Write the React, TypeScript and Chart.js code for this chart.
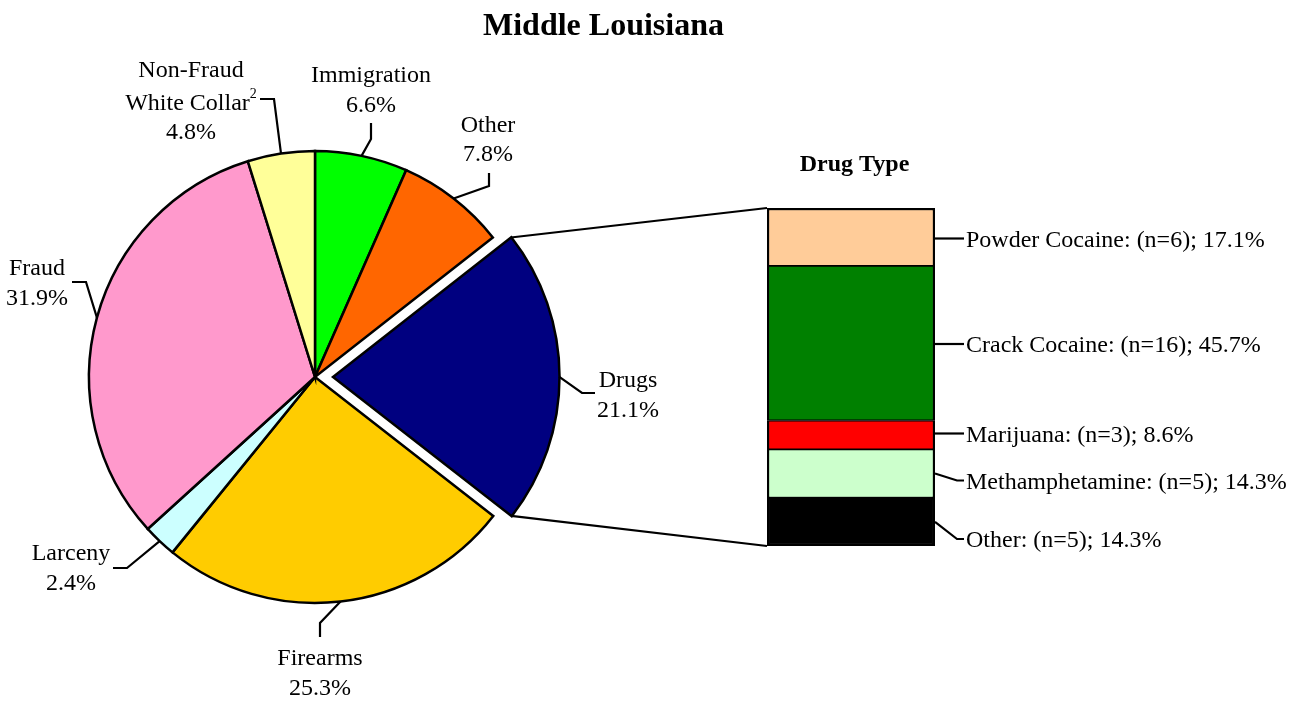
import React, { useEffect, useRef } from "react";
import { Chart, registerables } from "chart.js";

Chart.register(...registerables);

// ---------------- data ----------------
const TITLE = "Middle Louisiana";
const OFFENSE_TYPES = ["Immigration", "Other", "Drugs", "Firearms", "Larceny", "Fraud", "Non-Fraud White Collar"];
const OFFENSE_SHARES = [6.6, 7.8, 21.1, 25.3, 2.4, 31.9, 4.8];
const OFFENSE_LABEL_LINES = [["Immigration"], ["Other"], ["Drugs"], ["Firearms"], ["Larceny"], ["Fraud"], ["Non-Fraud", "White Collar"]];
const OFFENSE_FOOTNOTES = ["", "", "", "", "", "", "2"];
const EXPLODED_TYPE = "Drugs";

const DRUG_TITLE = "Drug Type";
// bottom to top of the stacked bar
const DRUG_TYPES = ["Other", "Methamphetamine", "Marijuana", "Crack Cocaine", "Powder Cocaine"];
const DRUG_COUNTS = [5, 5, 3, 16, 6];
const DRUG_SHARES = [14.3, 14.3, 8.6, 45.7, 17.1];

// ---------------- styles / layout ----------------
const OFFENSE_COLORS = ["#00FF00", "#FF6600", "#000080", "#FFCC00", "#CCFFFF", "#FF99CC", "#FFFF99"];
const DRUG_COLORS = ["#000000", "#CCFFCC", "#FF0000", "#008000", "#FFCC99"];

const W = 1298;
const H = 704;
const FONT = '"Liberation Serif", "Times New Roman", serif';
const PIE_CX = 315;
const PIE_CY = 377;
const PIE_R = 226;
const EXPLODE_PX = 18;
const BAR_LEFT = 767;
const BAR_RIGHT = 935;
const BAR_TOP = 208;
const BAR_BOTTOM = 546;
const LINE_W = 2.2;

const PIE_LABEL_LAYOUT = [
  { x: 371, baselines: [82, 112], elbow: [371, 139], end: [371, 123] },
  { x: 488, baselines: [131.5, 161], elbow: [489, 186], end: [489, 173] },
  { x: 628, baselines: [387, 417], elbow: [582, 393], end: [595, 393] },
  { x: 320, baselines: [665, 695], elbow: [320, 623], end: [320, 637] },
  { x: 71, baselines: [560, 590], elbow: [127, 568], end: [113, 568] },
  { x: 37, baselines: [275, 305], elbow: [86, 282], end: [72, 282] },
  { x: 191, baselines: [76.5, 110, 138.5], elbow: [274, 99], end: [260, 99] },
];

const DRUG_LABEL_LAYOUT = [
  { baseline: 547, bent: true },
  { baseline: 488.5, bent: true },
  { baseline: 441.5, bent: false },
  { baseline: 352, bent: false },
  { baseline: 246.5, bent: false },
];

let pieChartRef: Chart | null = null;

function arcPoint(arc: any, angle: number) {
  const mid = (arc.startAngle + arc.endAngle) / 2;
  const off = (arc.options.offset || 0) / 4;
  return [
    arc.x + Math.cos(angle) * arc.outerRadius + Math.cos(mid) * off,
    arc.y + Math.sin(angle) * arc.outerRadius + Math.sin(mid) * off,
  ];
}

const pieLabelsPlugin = {
  id: "pieLabels",
  afterDraw(chart: any) {
    const ctx = chart.ctx as CanvasRenderingContext2D;
    const meta = chart.getDatasetMeta(0);
    ctx.save();
    // main title
    ctx.fillStyle = "#000";
    ctx.font = `bold 32px ${FONT}`;
    ctx.textAlign = "center";
    ctx.textBaseline = "alphabetic";
    ctx.fillText(TITLE, 603.5, 35);

    ctx.strokeStyle = "#000";
    ctx.lineWidth = LINE_W;
    ctx.lineJoin = "miter";
    meta.data.forEach((arc: any, i: number) => {
      const lay = PIE_LABEL_LAYOUT[i];
      const mid = (arc.startAngle + arc.endAngle) / 2;
      const p = arcPoint(arc, mid);
      ctx.beginPath();
      ctx.moveTo(p[0], p[1]);
      ctx.lineTo(lay.elbow[0], lay.elbow[1]);
      ctx.lineTo(lay.end[0], lay.end[1]);
      ctx.stroke();

      const lines = [...OFFENSE_LABEL_LINES[i], `${OFFENSE_SHARES[i].toFixed(1)}%`];
      lines.forEach((ln, j) => {
        const by = lay.baselines[j];
        const isLastTextLine = j === OFFENSE_LABEL_LINES[i].length - 1;
        const note = isLastTextLine ? OFFENSE_FOOTNOTES[i] : "";
        ctx.font = `24px ${FONT}`;
        if (note) {
          const w1 = ctx.measureText(ln).width;
          ctx.font = `14px ${FONT}`;
          const w2 = ctx.measureText(note).width;
          const left = lay.x - (w1 + w2) / 2;
          ctx.textAlign = "left";
          ctx.font = `24px ${FONT}`;
          ctx.fillText(ln, left, by);
          ctx.font = `14px ${FONT}`;
          ctx.fillText(note, left + w1, by - 12);
        } else {
          ctx.textAlign = "center";
          ctx.fillText(ln, lay.x, by);
        }
      });
    });
    ctx.restore();
  },
};

const barLabelsPlugin = {
  id: "barLabels",
  afterDraw(chart: any) {
    const ctx = chart.ctx as CanvasRenderingContext2D;
    ctx.save();
    ctx.fillStyle = "#000";
    ctx.strokeStyle = "#000";
    ctx.lineWidth = LINE_W;
    ctx.lineJoin = "miter";

    // title
    ctx.font = `bold 24px ${FONT}`;
    ctx.textAlign = "center";
    ctx.textBaseline = "alphabetic";
    ctx.fillText(DRUG_TITLE, 854.5, 171);

    // connector lines from exploded slice to bar
    const topEl: any = chart.getDatasetMeta(DRUG_TYPES.length - 1).data[0];
    const botEl: any = chart.getDatasetMeta(0).data[0];
    const barLeft = topEl.x - topEl.width / 2;
    const barRight = topEl.x + topEl.width / 2;
    if (pieChartRef) {
      const idx = OFFENSE_TYPES.indexOf(EXPLODED_TYPE);
      const arc: any = pieChartRef.getDatasetMeta(0).data[idx];
      const a = arcPoint(arc, arc.startAngle);
      const b = arcPoint(arc, arc.endAngle);
      ctx.beginPath();
      ctx.moveTo(a[0], a[1]);
      ctx.lineTo(barLeft, topEl.y);
      ctx.moveTo(b[0], b[1]);
      ctx.lineTo(barLeft, botEl.base);
      ctx.stroke();
    }

    // segment labels
    ctx.font = `24px ${FONT}`;
    ctx.textAlign = "left";
    DRUG_TYPES.forEach((t, i) => {
      const el: any = chart.getDatasetMeta(i).data[0];
      const lay = DRUG_LABEL_LAYOUT[i];
      const ty = lay.baseline - 8;
      const midY = (el.y + el.base) / 2;
      ctx.beginPath();
      if (lay.bent) {
        ctx.moveTo(barRight, midY);
        ctx.lineTo(957, ty);
        ctx.lineTo(964, ty);
      } else {
        ctx.moveTo(barRight, ty);
        ctx.lineTo(964, ty);
      }
      ctx.stroke();
      ctx.fillText(`${t}: (n=${DRUG_COUNTS[i]}); ${DRUG_SHARES[i].toFixed(1)}%`, 966, lay.baseline);
    });
    ctx.restore();
  },
};

export default function App() {
  const pieRef = useRef<HTMLCanvasElement>(null);
  const barRef = useRef<HTMLCanvasElement>(null);

  useEffect(() => {
    if (!pieRef.current || !barRef.current) return;
    const half = 250;
    const pie = new Chart(pieRef.current, {
      type: "pie",
      data: {
        labels: OFFENSE_TYPES,
        datasets: [
          {
            data: OFFENSE_SHARES,
            backgroundColor: OFFENSE_COLORS,
            borderColor: "#000000",
            borderWidth: 2.5,
            borderJoinStyle: "miter",
            offset: OFFENSE_TYPES.map((t) => (t === EXPLODED_TYPE ? EXPLODE_PX * 4 : 0)),
          } as any,
        ],
      },
      options: {
        responsive: false,
        animation: false,
        radius: PIE_R,
        layout: {
          padding: {
            left: PIE_CX - half,
            right: W - (PIE_CX + half),
            top: PIE_CY - half,
            bottom: H - (PIE_CY + half),
          },
        },
        plugins: { legend: { display: false }, tooltip: { enabled: false }, title: { display: false } },
      } as any,
      plugins: [pieLabelsPlugin],
    });
    pieChartRef = pie;

    const total = DRUG_COUNTS.reduce((s, v) => s + v, 0);
    const n = DRUG_TYPES.length;
    const bar = new Chart(barRef.current, {
      type: "bar",
      data: {
        labels: [DRUG_TITLE],
        datasets: DRUG_TYPES.map((t, i) => ({
          label: t,
          data: [DRUG_COUNTS[i]],
          backgroundColor: DRUG_COLORS[i],
          borderColor: "#000000",
          borderWidth: { left: 2.5, right: 2.5, top: i === n - 1 ? 2.5 : 1.25, bottom: i === 0 ? 2.5 : 1.25 },
          borderSkipped: false,
          barPercentage: 1,
          categoryPercentage: 1,
          stack: "drugs",
        })),
      },
      options: {
        responsive: false,
        animation: false,
        layout: {
          padding: { left: BAR_LEFT, right: W - BAR_RIGHT, top: BAR_TOP, bottom: H - BAR_BOTTOM },
        },
        scales: {
          x: { display: false, stacked: true },
          y: { display: false, stacked: true, min: 0, max: total },
        },
        plugins: { legend: { display: false }, tooltip: { enabled: false } },
      } as any,
      plugins: [barLabelsPlugin],
    });

    return () => {
      bar.destroy();
      pie.destroy();
      pieChartRef = null;
    };
  }, []);

  const canvasStyle: React.CSSProperties = { position: "absolute", left: 0, top: 0 };
  return (
    <div style={{ position: "absolute", left: 0, top: 0, width: W, height: H, background: "#fff" }}>
      <canvas ref={pieRef} width={W} height={H} style={canvasStyle} />
      <canvas ref={barRef} width={W} height={H} style={canvasStyle} />
    </div>
  );
}
